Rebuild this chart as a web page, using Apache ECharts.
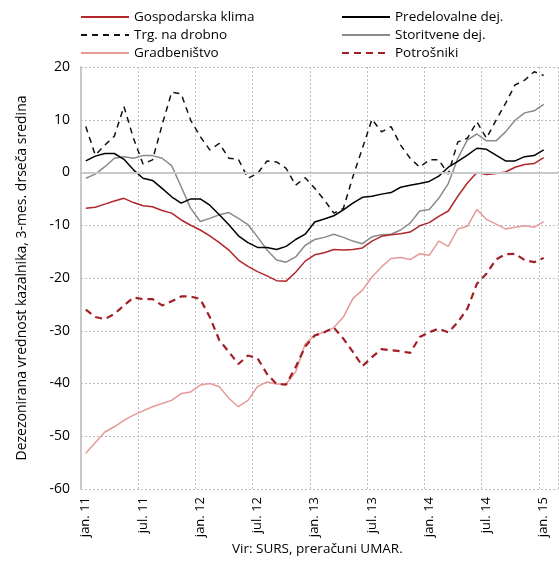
<!DOCTYPE html>
<html>
<head>
<meta charset="utf-8">
<script src="https://cdn.jsdelivr.net/npm/echarts@6/dist/echarts.min.js"></script>
<style>
  html, body { margin: 0; padding: 0; background: #fff; }
  #chart { width: 559px; height: 566px; }
</style>
</head>
<body>
<div id="chart"></div>
<script>
// meseci jan. 11 - feb. 15 (zadnji je prazen, podatki do jan. 15)
const monthNames = ['jan.', 'feb.', 'mar.', 'apr.', 'maj.', 'jun.', 'jul.', 'avg.', 'sep.', 'okt.', 'nov.', 'dec.'];
const years = ['11', '12', '13', '14', '15'];
const months = [];
years.forEach(y => monthNames.forEach(m => months.push(m + ' ' + y)));
const categories = months.slice(0, 50);

const yTicks = { min: -60, max: 20, interval: 10 };

const gospodarskaKlima = [-6.8, -6.6, -6.0, -5.4, -4.9, -5.7, -6.3, -6.5, -7.2, -7.7,
  -9.0, -10.0, -10.9, -12.0, -13.3, -14.7, -16.6, -17.8, -18.8, -19.6,
  -20.5, -20.6, -18.9, -16.8, -15.6, -15.2, -14.6, -14.7, -14.6, -14.3,
  -13.0, -12.1, -11.8, -11.6, -11.3, -10.1, -9.5, -8.3, -7.3, -4.5,
  -2.0, 0.0, -0.4, -0.2, 0.1, 1.0, 1.5, 1.7, 2.8];

const predelovalne = [2.2, 3.1, 3.6, 3.6, 2.5, 0.5, -1.1, -1.5, -3.0, -4.6,
  -5.8, -5.0, -5.0, -6.2, -8.0, -9.9, -12.0, -13.3, -14.2, -14.2,
  -14.6, -14.0, -12.7, -11.7, -9.4, -8.8, -8.2, -7.1, -5.8, -4.7,
  -4.5, -4.1, -3.8, -2.8, -2.4, -2.1, -1.7, -0.7, 1.0, 2.1,
  3.3, 4.6, 4.4, 3.3, 2.2, 2.2, 3.0, 3.2, 4.3];

const trgNaDrobno = [8.7, 3.3, 5.2, 6.9, 12.5, 6.5, 1.6, 2.4, 9.0, 15.2,
  14.9, 9.9, 6.8, 4.3, 5.5, 2.7, 2.5, -1.1, -0.2, 2.2,
  2.0, 0.8, -2.4, -1.0, -3.0, -5.2, -7.7, -6.8, -0.8, 4.6,
  10.1, 7.7, 8.7, 5.2, 2.7, 1.0, 2.4, 2.4, -0.3, 5.8,
  6.5, 9.6, 6.5, 9.9, 13.1, 16.6, 17.5, 19.1, 18.4];

const storitvene = [-1.1, -0.3, 1.1, 2.7, 3.0, 2.7, 3.2, 3.2, 2.7, 1.3,
  -2.7, -6.8, -9.3, -8.7, -8.0, -7.6, -8.7, -9.9, -12.2, -14.7,
  -16.6, -17.0, -16.0, -13.8, -12.7, -12.3, -11.7, -12.3, -13.0, -13.5,
  -12.2, -11.8, -11.7, -10.9, -9.6, -7.3, -7.0, -4.9, -2.1, 2.7,
  6.2, 7.3, 6.0, 6.0, 7.7, 9.9, 11.3, 11.7, 12.9];

const gradbenistvo = [-53.2, -51.2, -49.2, -48.2, -47.0, -46.0, -45.2, -44.4, -43.8, -43.2,
  -41.9, -41.6, -40.3, -40.0, -40.6, -42.8, -44.4, -43.2, -40.6, -39.7,
  -40.1, -40.1, -37.8, -32.5, -30.8, -30.3, -29.4, -27.4, -23.9, -22.3,
  -19.8, -17.9, -16.3, -16.1, -16.5, -15.4, -15.7, -13.0, -14.0, -10.7,
  -10.2, -7.0, -8.9, -9.8, -10.7, -10.4, -10.1, -10.4, -9.3];

const potrosniki = [-26.0, -27.4, -27.8, -26.8, -25.2, -23.7, -24.0, -24.0, -25.2, -24.4,
  -23.5, -23.5, -24.0, -27.4, -31.8, -34.0, -36.3, -34.7, -35.2, -38.2,
  -40.1, -40.2, -36.9, -33.0, -30.9, -30.3, -29.4, -31.5, -34.0, -36.7,
  -35.0, -33.5, -33.7, -33.9, -34.2, -31.2, -30.3, -29.6, -30.3, -28.4,
  -25.8, -21.1, -19.2, -16.5, -15.5, -15.4, -16.6, -17.0, -16.2];

const font = 'Open Sans';

function line(name, data, color, width, dash) {
  return {
    name: name,
    type: 'line',
    data: data,
    symbol: 'none',
    smooth: false,
    lineStyle: { color: color, width: width, type: dash || 'solid' },
    itemStyle: { color: color },
    emphasis: { disabled: true }
  };
}

const series = [
  line('Gradbeništvo', gradbenistvo, '#e59a98', 1.5),
  line('Potrošniki', potrosniki, '#a21f25', 2.2, [7, 5]),
  line('Storitvene dej.', storitvene, '#8a8a8a', 1.5),
  line('Trg. na drobno', trgNaDrobno, '#111111', 1.5, [6, 5]),
  line('Gospodarska klima', gospodarskaKlima, '#b3262b', 1.5),
  line('Predelovalne dej.', predelovalne, '#000000', 1.5)
];
// ničelna črta
series[0].markLine = {
  silent: true,
  symbol: 'none',
  label: { show: false },
  lineStyle: { color: '#c8c8c8', width: 2, type: 'solid' },
  data: [{ yAxis: 0 }]
};

const legendCommon = {
  orient: 'vertical',
  top: 10,
  padding: 0,
  itemWidth: 48,
  itemHeight: 10,
  itemGap: 4,
  itemStyle: { opacity: 0 },
  textStyle: { fontFamily: font, fontSize: 13.5, color: '#000' },
  selectedMode: false
};

const chart = echarts.init(document.getElementById('chart'));
chart.setOption({
  animation: false,
  textStyle: { fontFamily: font },
  legend: [
    Object.assign({}, legendCommon, { left: 80, data: ['Gospodarska klima', 'Trg. na drobno', 'Gradbeništvo'] }),
    Object.assign({}, legendCommon, { left: 341, data: ['Predelovalne dej.', 'Storitvene dej.', 'Potrošniki'] })
  ],
  graphic: [{
    type: 'text',
    left: 232,
    top: 542,
    style: { text: 'Vir: SURS, preračuni UMAR.', fontFamily: font, fontSize: 13.5, fill: '#000' }
  }],
  grid: { left: 81, right: 1, top: 67, bottom: 77, containLabel: false },
  xAxis: {
    type: 'category',
    data: categories,
    boundaryGap: true,
    axisLine: { show: true, lineStyle: { color: '#b0b0b0', width: 1 } },
    axisTick: { show: false },
    axisLabel: { interval: 5, rotate: 90, fontFamily: font, fontSize: 13, color: '#000', margin: 8 },
    splitLine: { show: true, interval: 5, lineStyle: { color: '#bdbdbd', type: [2, 2], width: 1 } }
  },
  yAxis: {
    type: 'value',
    min: yTicks.min,
    max: yTicks.max,
    interval: yTicks.interval,
    name: 'Dezezonirana vrednost kazalnika, 3-mes. drseča sredina',
    nameLocation: 'middle',
    nameGap: 52,
    nameTextStyle: { fontFamily: font, fontSize: 14, color: '#000' },
    axisLine: { show: true, lineStyle: { color: '#c8c8c8', width: 2 } },
    axisTick: { show: false },
    axisLabel: { fontFamily: font, fontSize: 14, color: '#000', margin: 11 },
    splitLine: { show: true, lineStyle: { color: '#bdbdbd', type: [2, 2], width: 1 } }
  },
  series: series
});
</script>
</body>
</html>
